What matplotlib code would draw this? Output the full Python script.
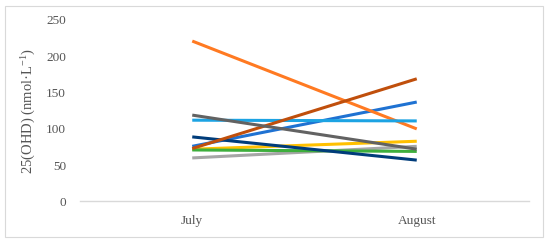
import matplotlib
matplotlib.use("Agg")
import matplotlib.pyplot as plt
from matplotlib.patches import Rectangle

months = ["July", "August"]
series_names = ["S1", "S2", "S3", "S4", "S5", "S6", "S7", "S8", "S9"]
s1_blue = [76, 137]
s2_orange = [221, 100]
s3_lightgray = [60, 76]
s4_yellow = [72, 83]
s5_lightblue = [112, 111]
s6_green = [71, 69]
s7_navy = [89, 57]
s8_brown = [73, 169]
s9_darkgray = [119, 72]
values = [s1_blue, s2_orange, s3_lightgray, s4_yellow, s5_lightblue,
          s6_green, s7_navy, s8_brown, s9_darkgray]
colors = ["#1F72D2", "#FF7A22", "#A6A6A6", "#FFC000", "#1CA3E3",
          "#3DAE3C", "#003C7A", "#C04F0C", "#626262"]
yticks = [0, 50, 100, 150, 200, 250]

plt.rcParams["mathtext.fontset"] = "custom"
plt.rcParams["mathtext.rm"] = "Liberation Serif"

fig = plt.figure(figsize=(5.5, 2.43), dpi=100)
fig.patches.append(Rectangle((5/550, 6/243), 538/550, 231/243, transform=fig.transFigure,
                             fill=False, edgecolor="#D9D9D9", linewidth=0.8))
ax = fig.add_axes([80/550, 1-201.5/243, 449/550, 181.5/243])
x = list(range(len(months)))
for name, v, c in zip(series_names, values, colors):
    ax.plot(x, v, color=c, linewidth=2.2, solid_capstyle="butt", label=name)

ax.set_xlim(-0.5, 1.5)
ax.set_ylim(0, 250)
ax.set_yticks(yticks)
ax.set_xticks(x)
ax.set_xticklabels(months)
for s in ["left", "right", "top"]:
    ax.spines[s].set_visible(False)
ax.spines["bottom"].set_color("#D9D9D9")
ax.spines["bottom"].set_linewidth(1.0)
ax.tick_params(axis="both", length=0, colors="#555555", labelsize=9.5)
ax.tick_params(axis="x", pad=10)
ax.tick_params(axis="y", pad=10)
for lab in ax.get_xticklabels() + ax.get_yticklabels():
    lab.set_family("Liberation Serif")
ax.set_ylabel("25(OHD) (nmol·L$\\mathrm{^{-1}}$)", family="Liberation Serif", fontsize=10.5,
              color="#555555", labelpad=6)
fig.savefig("out.png", dpi=100)
